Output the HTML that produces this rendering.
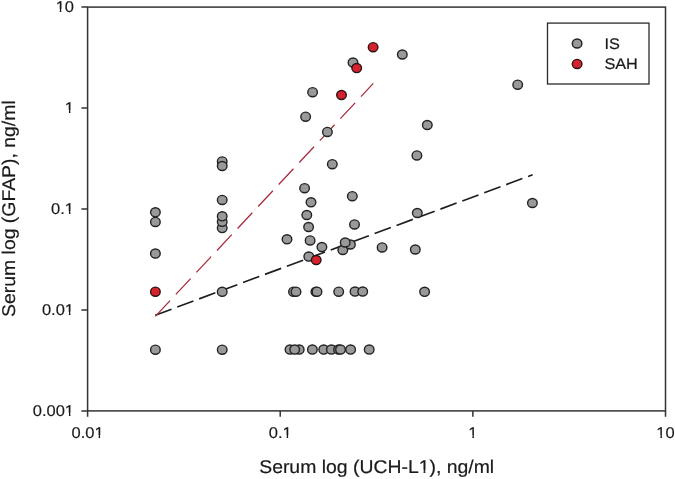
<!DOCTYPE html>
<html><head><meta charset="utf-8"><style>
html,body{margin:0;padding:0;background:#fff;}
svg{display:block;}
text{font-family:"Liberation Sans",sans-serif;fill:#1a1a1a;stroke:#1a1a1a;stroke-width:0.2px;text-rendering:geometricPrecision;}
</style></head><body>
<svg width="675" height="479" viewBox="0 0 675 479">
<rect width="675" height="479" fill="#fff"/>
<g stroke="#333" stroke-width="1.5" fill="none">
<rect x="87.6" y="7.1" width="577.90" height="403.80"/>
<path d="M81.4 7.10H87.6M81.4 108.05H87.6M81.4 209.00H87.6M81.4 309.95H87.6M81.4 410.90H87.6"/>
<path d="M87.60 410.9V416.8M280.23 410.9V416.8M472.87 410.9V416.8M665.50 410.9V416.8"/>
</g>
<line x1="155.3" y1="315.2" x2="532.6" y2="174.8" stroke="#1e1e1e" stroke-width="1.65" stroke-dasharray="17.3 6.1"/>
<line x1="155.3" y1="316.4" x2="373.3" y2="83.4" stroke="#a82a3a" stroke-width="1.25" stroke-dasharray="21.6 8.5"/>
<g stroke="#222" stroke-width="1.4">
<ellipse cx="155.4" cy="212.3" rx="4.8" ry="4.55" fill="#999999"/>
<ellipse cx="155.4" cy="221.9" rx="4.8" ry="4.55" fill="#999999"/>
<ellipse cx="155.4" cy="253.5" rx="4.8" ry="4.55" fill="#999999"/>
<ellipse cx="155.4" cy="349.7" rx="4.8" ry="4.55" fill="#999999"/>
<ellipse cx="222.2" cy="161.4" rx="4.8" ry="4.55" fill="#999999"/>
<ellipse cx="222.2" cy="166.0" rx="4.8" ry="4.55" fill="#999999"/>
<ellipse cx="222.2" cy="199.9" rx="4.8" ry="4.55" fill="#999999"/>
<ellipse cx="222.2" cy="228.1" rx="4.8" ry="4.55" fill="#999999"/>
<ellipse cx="222.2" cy="221.8" rx="4.8" ry="4.55" fill="#999999"/>
<ellipse cx="222.2" cy="216.3" rx="4.8" ry="4.55" fill="#999999"/>
<ellipse cx="222.2" cy="291.8" rx="4.8" ry="4.55" fill="#999999"/>
<ellipse cx="222.2" cy="349.7" rx="4.8" ry="4.55" fill="#999999"/>
<ellipse cx="287.0" cy="239.3" rx="4.8" ry="4.55" fill="#999999"/>
<ellipse cx="293.5" cy="291.7" rx="4.8" ry="4.55" fill="#999999"/>
<ellipse cx="296.0" cy="291.7" rx="4.8" ry="4.55" fill="#999999"/>
<ellipse cx="290.0" cy="349.6" rx="4.8" ry="4.55" fill="#999999"/>
<ellipse cx="299.2" cy="349.6" rx="4.8" ry="4.55" fill="#999999"/>
<ellipse cx="294.7" cy="349.6" rx="4.8" ry="4.55" fill="#999999"/>
<ellipse cx="312.6" cy="92.2" rx="4.8" ry="4.55" fill="#999999"/>
<ellipse cx="305.6" cy="116.7" rx="4.8" ry="4.55" fill="#999999"/>
<ellipse cx="304.6" cy="188.2" rx="4.8" ry="4.55" fill="#999999"/>
<ellipse cx="311.0" cy="202.3" rx="4.8" ry="4.55" fill="#999999"/>
<ellipse cx="306.8" cy="215.0" rx="4.8" ry="4.55" fill="#999999"/>
<ellipse cx="308.6" cy="227.0" rx="4.8" ry="4.55" fill="#999999"/>
<ellipse cx="310.1" cy="240.4" rx="4.8" ry="4.55" fill="#999999"/>
<ellipse cx="308.8" cy="256.6" rx="4.8" ry="4.55" fill="#999999"/>
<ellipse cx="312.4" cy="349.6" rx="4.8" ry="4.55" fill="#999999"/>
<ellipse cx="315.9" cy="291.7" rx="4.8" ry="4.55" fill="#999999"/>
<ellipse cx="317.0" cy="291.7" rx="4.8" ry="4.55" fill="#999999"/>
<ellipse cx="321.9" cy="247.1" rx="4.8" ry="4.55" fill="#999999"/>
<ellipse cx="323.7" cy="349.6" rx="4.8" ry="4.55" fill="#999999"/>
<ellipse cx="327.4" cy="131.9" rx="4.8" ry="4.55" fill="#999999"/>
<ellipse cx="331.4" cy="349.6" rx="4.8" ry="4.55" fill="#999999"/>
<ellipse cx="332.3" cy="164.2" rx="4.8" ry="4.55" fill="#999999"/>
<ellipse cx="338.7" cy="291.7" rx="4.8" ry="4.55" fill="#999999"/>
<ellipse cx="338.6" cy="349.6" rx="4.8" ry="4.55" fill="#999999"/>
<ellipse cx="340.5" cy="349.6" rx="4.8" ry="4.55" fill="#999999"/>
<ellipse cx="342.8" cy="250.0" rx="4.8" ry="4.55" fill="#999999"/>
<ellipse cx="350.4" cy="244.5" rx="4.8" ry="4.55" fill="#999999"/>
<ellipse cx="345.2" cy="242.5" rx="4.8" ry="4.55" fill="#999999"/>
<ellipse cx="350.6" cy="349.6" rx="4.8" ry="4.55" fill="#999999"/>
<ellipse cx="352.3" cy="196.2" rx="4.8" ry="4.55" fill="#999999"/>
<ellipse cx="353.0" cy="62.6" rx="4.8" ry="4.55" fill="#999999"/>
<ellipse cx="354.5" cy="224.4" rx="4.8" ry="4.55" fill="#999999"/>
<ellipse cx="355.0" cy="291.6" rx="4.8" ry="4.55" fill="#999999"/>
<ellipse cx="362.7" cy="291.6" rx="4.8" ry="4.55" fill="#999999"/>
<ellipse cx="369.2" cy="349.6" rx="4.8" ry="4.55" fill="#999999"/>
<ellipse cx="382.1" cy="247.4" rx="4.8" ry="4.55" fill="#999999"/>
<ellipse cx="402.3" cy="54.5" rx="4.8" ry="4.55" fill="#999999"/>
<ellipse cx="415.3" cy="249.5" rx="4.8" ry="4.55" fill="#999999"/>
<ellipse cx="416.9" cy="155.4" rx="4.8" ry="4.55" fill="#999999"/>
<ellipse cx="417.3" cy="213.0" rx="4.8" ry="4.55" fill="#999999"/>
<ellipse cx="424.6" cy="291.8" rx="4.8" ry="4.55" fill="#999999"/>
<ellipse cx="427.3" cy="125.0" rx="4.8" ry="4.55" fill="#999999"/>
<ellipse cx="517.7" cy="84.7" rx="4.8" ry="4.55" fill="#999999"/>
<ellipse cx="532.4" cy="203.0" rx="4.8" ry="4.55" fill="#999999"/>
<ellipse cx="155.4" cy="291.7" rx="4.8" ry="4.55" fill="#d6222c" stroke="#2a1414"/>
<ellipse cx="316.2" cy="260.1" rx="4.8" ry="4.55" fill="#d6222c" stroke="#2a1414"/>
<ellipse cx="341.5" cy="95.0" rx="4.8" ry="4.55" fill="#d6222c" stroke="#2a1414"/>
<ellipse cx="356.7" cy="68.1" rx="4.8" ry="4.55" fill="#d6222c" stroke="#2a1414"/>
<ellipse cx="373.1" cy="47.2" rx="4.8" ry="4.55" fill="#d6222c" stroke="#2a1414"/>
</g>
<rect x="547.5" y="23.1" width="101.5" height="60.9" fill="#fff" stroke="#2b2b2b" stroke-width="1.3"/>
<g stroke="#222" stroke-width="1.4">
<ellipse cx="577.1" cy="43.5" rx="4.8" ry="4.55" fill="#999999"/>
<ellipse cx="577.1" cy="63.9" rx="4.8" ry="4.55" fill="#d6222c" stroke="#2a1414"/>
</g>
<g opacity="0.999">
<g font-size="16.5" text-anchor="end">
<text transform="translate(74,12.20) scale(1,0.94)">10</text>
<text transform="translate(74,113.15) scale(1,0.94)">1</text>
<text transform="translate(74,214.10) scale(1,0.94)">0.1</text>
<text transform="translate(74,315.05) scale(1,0.94)">0.01</text>
<text transform="translate(74,416.00) scale(1,0.94)">0.001</text>
</g>
<g font-size="16.5" text-anchor="middle">
<text transform="translate(87.60,438.3) scale(1,0.94)">0.01</text>
<text transform="translate(280.23,438.3) scale(1,0.94)">0.1</text>
<text transform="translate(472.87,438.3) scale(1,0.94)">1</text>
<text transform="translate(665.50,438.3) scale(1,0.94)">10</text>
</g>
<text transform="translate(259.2,473.5) scale(1,0.95)" font-size="19.4">Serum log (UCH-L1), ng/ml</text>
<text transform="translate(15.1,316.9) rotate(-90) scale(1,0.95)" font-size="19.4">Serum log (GFAP), ng/ml</text>
<g font-size="16.3">
<text transform="translate(604.4,48.5) scale(1,0.94)">IS</text>
<text transform="translate(604.4,68.8) scale(1,0.94)">SAH</text>
</g>
</g>
<g transform="translate(74.00,12.20) scale(1,0.94)" fill="#fff"><rect x="-18.046" y="-3.433" width="3.812" height="4.233"/><rect x="-12.716" y="-3.433" width="3.583" height="4.233"/></g>
<g transform="translate(74.00,113.15) scale(1,0.94)" fill="#fff"><rect x="-8.870" y="-3.433" width="3.812" height="4.233"/><rect x="-3.539" y="-3.433" width="3.583" height="4.233"/></g>
<g transform="translate(74.00,214.10) scale(1,0.94)" fill="#fff"><rect x="-8.870" y="-3.433" width="3.812" height="4.233"/><rect x="-3.539" y="-3.433" width="3.583" height="4.233"/></g>
<g transform="translate(74.00,315.05) scale(1,0.94)" fill="#fff"><rect x="-8.870" y="-3.433" width="3.812" height="4.233"/><rect x="-3.539" y="-3.433" width="3.583" height="4.233"/></g>
<g transform="translate(74.00,416.00) scale(1,0.94)" fill="#fff"><rect x="-8.870" y="-3.433" width="3.812" height="4.233"/><rect x="-3.539" y="-3.433" width="3.583" height="4.233"/></g>
<g transform="translate(87.60,438.30) scale(1,0.94)" fill="#fff"><rect x="7.187" y="-3.433" width="3.812" height="4.233"/><rect x="12.518" y="-3.433" width="3.583" height="4.233"/></g>
<g transform="translate(280.23,438.30) scale(1,0.94)" fill="#fff"><rect x="2.599" y="-3.433" width="3.812" height="4.233"/><rect x="7.930" y="-3.433" width="3.583" height="4.233"/></g>
<g transform="translate(472.87,438.30) scale(1,0.94)" fill="#fff"><rect x="-4.281" y="-3.433" width="3.812" height="4.233"/><rect x="1.049" y="-3.433" width="3.583" height="4.233"/></g>
<g transform="translate(665.50,438.30) scale(1,0.94)" fill="#fff"><rect x="-8.870" y="-3.433" width="3.812" height="4.233"/><rect x="-3.539" y="-3.433" width="3.583" height="4.233"/></g>
<g transform="translate(259.20,473.50) scale(1,0.95)" fill="#fff"><rect x="160.076" y="-3.649" width="4.321" height="4.449"/><rect x="166.171" y="-3.649" width="4.069" height="4.449"/></g>
</svg>
</body></html>
